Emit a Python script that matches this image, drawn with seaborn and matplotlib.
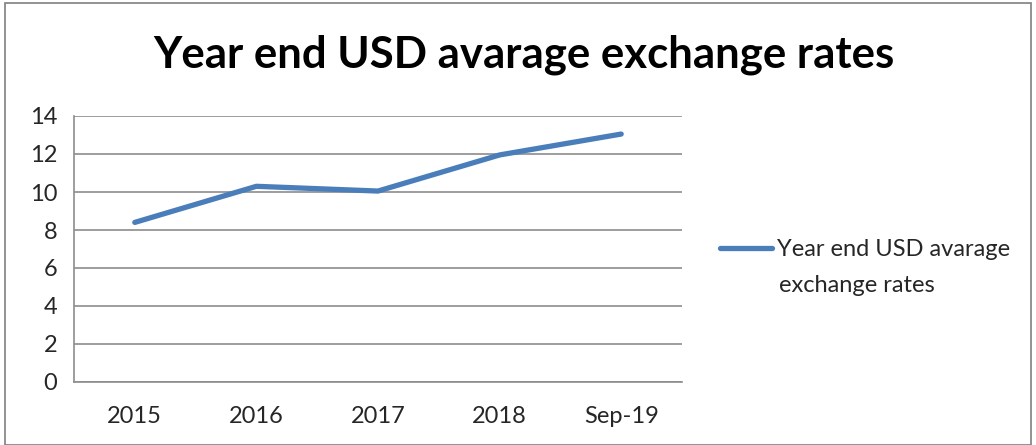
import matplotlib
matplotlib.use('Agg')
import matplotlib.pyplot as plt
import seaborn as sns
import pandas as pd
import numpy as np
from matplotlib.patches import Rectangle

# 数据
periods = ['2015', '2016', '2017', '2018', 'Sep-19']
rates = [8.4, 10.3, 10.05, 11.95, 13.05]
series_line1 = 'Year end USD avarage'
series_line2 = 'exchange rates'
chart_title = 'Year end USD avarage exchange rates'

sns.set_style('white')
plt.rcParams['font.family'] = ['Lato', 'DejaVu Sans']

df = pd.DataFrame({'period': periods, 'rate': rates})
df['pos'] = np.arange(len(periods))

fig = plt.figure(figsize=(10.36, 4.45), dpi=100)
ax = fig.add_axes([74 / 1036, 1 - 382 / 445, (682 - 74) / 1036, (382 - 116) / 445])

line_color = '#4A7EBB'
grid_color = '#8C8C8C'

sns.lineplot(data=df, x='pos', y='rate', ax=ax, color=line_color, linewidth=3.8,
             solid_capstyle='round', label=series_line1)

ax.set_xlim(-0.5, len(periods) - 0.5)
ax.set_ylim(0, 14)
ax.set_yticks(np.arange(0, 15, 2))
ax.yaxis.grid(True, color=grid_color, linewidth=1.2)
ax.set_axisbelow(True)

# x 轴：标签在中间，刻度在分界处
ax.set_xticks(df['pos'])
ax.set_xticklabels(periods)
ax.set_xticks(np.arange(-0.5, len(periods), 1), minor=True)
ax.tick_params(axis='x', which='major', length=0, pad=17, labelsize=17)
ax.tick_params(axis='x', which='minor', length=7, width=1.2, color=grid_color, direction='out')
ax.tick_params(axis='y', length=7, width=1.2, color=grid_color, direction='out', labelsize=17, pad=5)
ax.set_xlabel('')
ax.set_ylabel('')

for side in ['top', 'right']:
    ax.spines[side].set_visible(False)
for side in ['left', 'bottom']:
    ax.spines[side].set_color(grid_color)
    ax.spines[side].set_linewidth(1.2)

fig.text(524 / 1036, 1 - 55 / 445, chart_title, ha='center', va='center',
         fontsize=31.5, fontweight='bold', color='black')

# 图例：线条与第一行对齐，第二行单独写
leg = ax.legend(loc='center left', bbox_to_anchor=(1.0625, 1 - (250 - 116) / 266), frameon=False,
                fontsize=17, handlelength=2.2, handletextpad=0.2, borderaxespad=0,
                borderpad=0)
fig.text(779 / 1036, 1 - 285 / 445, series_line2, ha='left', va='center', fontsize=17)

# 图表外框
fig.patches.append(Rectangle((5 / 1036, 0), 1 - 10 / 1036, 1 - 3 / 445,
                             transform=fig.transFigure, fill=False,
                             edgecolor='#7F7F7F', linewidth=1.2))

fig.savefig('out.png', dpi=100)
